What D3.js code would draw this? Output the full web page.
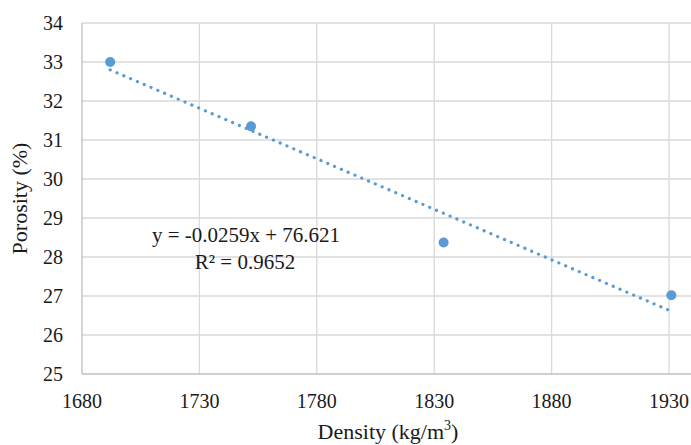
<!DOCTYPE html>
<html>
<head>
<meta charset="utf-8">
<script src="https://cdn.jsdelivr.net/npm/d3@7/dist/d3.min.js"></script>
<style>
  html, body { margin: 0; padding: 0; background: #fff; }
  svg { display: block; }
</style>
</head>
<body>
<svg id="chart" width="691" height="445"></svg>
<script>
// Density vs porosity measurements
const density = [1692, 1752, 1834, 1931];
const porosity = [33.0, 31.35, 28.37, 27.02];

// Linear trendline reported for the series
const slope = -0.0259;
const intercept = 76.621;
const equationText = "y = -0.0259x + 76.621";
const r2Text = "R² = 0.9652";

const xTicks = [1680, 1730, 1780, 1830, 1880, 1930];
const yTicks = [25, 26, 27, 28, 29, 30, 31, 32, 33, 34];

const W = 691, H = 445;
const FONT = '"Liberation Serif"';
const svg = d3.select("#chart");

const x = d3.scaleLinear().domain([1680, 1930]).range([82, 669]);
const y = d3.scaleLinear().domain([25, 34]).range([374, 23]);

const gridColor = "#d9d9d9";
const axisColor = "#bfbfbf";
const textColor = "#1a1a1a";
const blue = "#5b9bd5";

// horizontal gridlines run to the right edge
svg.append("g")
  .selectAll("line")
  .data(yTicks.filter(d => d !== 25))
  .join("line")
  .attr("x1", x(1680)).attr("x2", W)
  .attr("y1", d => y(d)).attr("y2", d => y(d))
  .attr("stroke", gridColor).attr("stroke-width", 1.3);

// vertical gridlines
svg.append("g")
  .selectAll("line")
  .data(xTicks.filter(d => d !== 1680))
  .join("line")
  .attr("x1", d => x(d)).attr("x2", d => x(d))
  .attr("y1", y(34)).attr("y2", y(25))
  .attr("stroke", gridColor).attr("stroke-width", 1.3);

// axis lines
svg.append("line")
  .attr("x1", x(1680)).attr("x2", x(1680))
  .attr("y1", y(34)).attr("y2", y(25))
  .attr("stroke", axisColor).attr("stroke-width", 1.3);
svg.append("line")
  .attr("x1", x(1680)).attr("x2", W)
  .attr("y1", y(25)).attr("y2", y(25))
  .attr("stroke", axisColor).attr("stroke-width", 1.3);

// y tick labels
svg.append("g")
  .selectAll("text")
  .data(yTicks)
  .join("text")
  .style("font-family", FONT)
  .attr("x", 63)
  .attr("y", d => y(d))
  .attr("dy", "0.34em")
  .attr("text-anchor", "end")
  .attr("font-size", 20)
  .attr("fill", textColor)
  .text(d => d);

// x tick labels
svg.append("g")
  .selectAll("text")
  .data(xTicks)
  .join("text")
  .style("font-family", FONT)
  .attr("x", d => x(d))
  .attr("y", 408)
  .attr("text-anchor", "middle")
  .attr("font-size", 20)
  .attr("fill", textColor)
  .text(d => d);

// axis titles
const xt = svg.append("text")
  .style("font-family", FONT)
  .attr("x", 388).attr("y", 439)
  .attr("text-anchor", "middle")
  .attr("font-size", 22)
  .attr("fill", textColor);
xt.append("tspan").text("Density (kg/m");
xt.append("tspan").attr("font-size", 14).attr("dy", -9).text("3");
xt.append("tspan").attr("dy", 9).text(")");

svg.append("text")
  .style("font-family", FONT)
  .attr("transform", `translate(27,${(y(34) + y(25)) / 2}) rotate(-90)`)
  .attr("text-anchor", "middle")
  .attr("font-size", 22)
  .attr("fill", textColor)
  .text("Porosity (%)");

// dotted linear trendline across the data range
const [xMin, xMax] = d3.extent(density);
svg.append("line")
  .attr("x1", x(xMin)).attr("y1", y(slope * xMin + intercept))
  .attr("x2", x(xMax)).attr("y2", y(slope * xMax + intercept))
  .attr("stroke", blue)
  .attr("stroke-width", 3.2)
  .attr("stroke-linecap", "round")
  .attr("stroke-dasharray", "0.1 7.3");

// data points
svg.append("g")
  .selectAll("circle")
  .data(density.map((d, i) => [d, porosity[i]]))
  .join("circle")
  .attr("cx", d => x(d[0]))
  .attr("cy", d => y(d[1]))
  .attr("r", 5)
  .attr("fill", blue);

// trendline equation
svg.append("text")
  .style("font-family", FONT)
  .attr("x", 246).attr("y", 242)
  .attr("text-anchor", "middle")
  .attr("font-size", 21)
  .attr("fill", textColor)
  .text(equationText);
svg.append("text")
  .style("font-family", FONT)
  .attr("x", 245).attr("y", 269)
  .attr("text-anchor", "middle")
  .attr("font-size", 21)
  .attr("fill", textColor)
  .text(r2Text);
</script>
</body>
</html>
